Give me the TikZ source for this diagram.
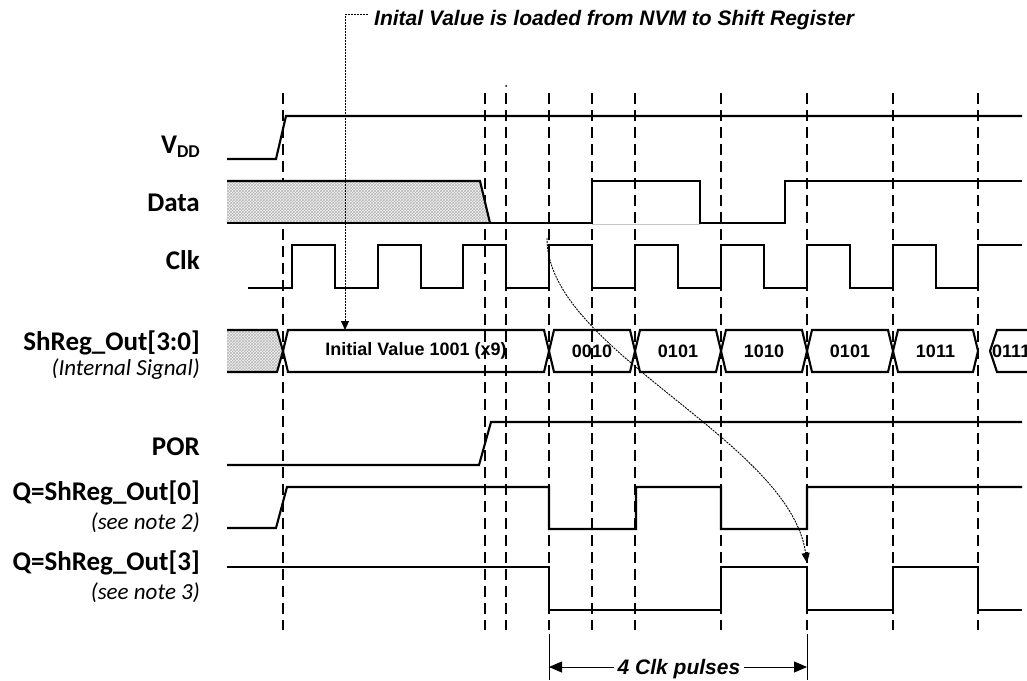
\documentclass[tikz,border=0pt]{standalone}
\usepackage{fontspec}
\setmainfont{Carlito}
\newfontfamily\arialfont{Liberation Sans}
\usetikzlibrary{arrows.meta, patterns}

\begin{document}
\begin{tikzpicture}[x=1pt, y=-1pt,
    sig/.style={line width=2.1pt, line join=miter},
    grid/.style={line width=2.3pt, dash pattern=on 11pt off 6pt},
    lbl/.style={anchor=east, inner sep=0, font=\fontsize{27}{29}\selectfont\bfseries},
    sub/.style={anchor=east, inner sep=0, font=\fontsize{23}{25}\selectfont\itshape},
    bus/.style={inner sep=0, font=\arialfont\fontsize{18}{20}\selectfont\bfseries},
    note/.style={inner sep=0, font=\arialfont\fontsize{21}{24}\selectfont\bfseries\itshape},
    lead/.style={line width=0.9pt, dash pattern=on 2pt off 1pt},
    ext/.style={line width=0.9pt},
    hatch/.style={pattern=crosshatch, pattern color=gray!55}]
  \useasboundingbox (0,0) rectangle (1027,680);

  % timing grid
  \foreach \x in {283,485,506,549,592,635,721,807,893,978}
    \draw[grid] (\x,93) -- (\x,630);
  \fill (506,86) circle (1pt);

  % signal names
  \node[lbl] (vdd) at (200,147) {V\raisebox{-0.3ex}{\fontsize{18}{18}\selectfont DD}};
  \node[lbl] (data) at (200,203) {Data};
  \node[lbl] (clk) at (200,260) {Clk};
  \node[lbl] (shreg) at (200,343) {ShReg\_Out[3:0]};
  \node[sub] (internal) at (200,369) {(Internal Signal)};
  \node[lbl] (por) at (200,447) {POR};
  \node[lbl] (qzero) at (200,493) {Q=ShReg\_Out[0]};
  \node[sub] (notetwo) at (200,523) {(see note 2)};
  \node[lbl] (qthree) at (200,563) {Q=ShReg\_Out[3]};
  \node[sub] (notethree) at (200,593) {(see note 3)};

  % VDD
  \draw[sig] (227,159) -- (276,159) -- (286,116) -- (1022,116);

  % Data
  \fill[gray!12] (227,181) -- (480,181) -- (490,223) -- (227,223) -- cycle;
  \fill[hatch] (227,181) -- (480,181) -- (490,223) -- (227,223) -- cycle;
  \draw[sig] (227,181) -- (480,181) -- (490,223);
  \draw[gray!45, line width=0.8pt] (592,224) -- (700,224);
  \draw[sig] (227,223) -- (592,223) -- (592,181) -- (700,181) -- (700,223)
    -- (785,223) -- (785,181) -- (1022,181);

  % Clk
  \draw[sig] (248,288)
    \foreach \r/\f in {292/335,378/421,463/506,549/592,635/678,721/764,807/850,893/936}
      { -- (\r,288) -- (\r,245) -- (\f,245) -- (\f,288) }
    -- (978,288) -- (978,245) -- (1022,245);

  % ShReg_Out[3:0]
  \fill[gray!12] (227,330) -- (277,330) -- (283,351) -- (277,372) -- (227,372) -- cycle;
  \fill[hatch] (227,330) -- (277,330) -- (283,351) -- (277,372) -- (227,372) -- cycle;
  \draw[sig] (227,330) -- (277,330) -- (283,351) -- (277,372) -- (227,372);
  \foreach \a/\b/\v in {283/549/Initial Value 1001 (x9),549/635/0010,635/721/0101,
                        721/807/1010,807/893/0101,893/978/1011} {
    \draw[sig] (\a,351) -- (\a+5,330) -- (\b-5,330) -- (\b,351) -- (\b-5,372)
      -- (\a+5,372) -- cycle;
    \node[bus] (val\a) at ({(\a+\b)/2},351) {\v};
  }
  \begin{scope}
    \clip (0,0) rectangle (1027,680);
    \draw[sig] (1032,330) -- (997,330) -- (990,351) -- (997,372) -- (1032,372);
    \node[bus, anchor=west] (val990) at (992,351) {0111};
  \end{scope}

  % POR
  \draw[sig] (227,465) -- (479,465) -- (491,422) -- (1022,422);

  % Q = ShReg_Out[0]
  \draw[sig] (227,528) -- (276,528) -- (287,487) -- (549,487) -- (549,529)
    -- (636,529) -- (636,487) -- (721,487) -- (721,529) -- (807,529)
    -- (807,487) -- (1022,487);

  % Q = ShReg_Out[3]
  \draw[sig] (227,567) -- (549,567) -- (549,610) -- (721,610) -- (721,567)
    -- (807,567) -- (807,610) -- (893,610) -- (893,567) -- (978,567)
    -- (978,610) -- (1022,610);

  % annotations
  \node[note, anchor=base west] (load) at (374,25) {Inital Value is loaded from NVM to Shift Register};
  \coordinate (loadtip) at (345,330);
  \draw[lead, -{Triangle[length=9pt,width=8pt]}] ([xshift=-6pt,yshift=5pt]load.west) -| (loadtip);

  \coordinate (clkedge) at (547,238);
  \coordinate (qedge) at (807,563);
  \draw[lead, -{Triangle[length=10pt,width=8pt]}] (clkedge)
    .. controls (546,350) and (790,440) .. (qedge);

  % 4 clock pulses
  \coordinate (pa) at (549,667);
  \coordinate (pb) at (807,667);
  \draw[ext] (549,634) -- (549,680);
  \draw[ext] (807,634) -- (807,680);
  \node[note, anchor=base] (pulses) at (679,674) {4 Clk pulses};
  \draw[ext, -{Triangle[length=13pt,width=11pt]}] ([xshift=-4pt]pulses.west |- pa) -- (pa);
  \draw[ext, -{Triangle[length=13pt,width=11pt]}] ([xshift=4pt]pulses.east |- pb) -- (pb);
\end{tikzpicture}
\end{document}
